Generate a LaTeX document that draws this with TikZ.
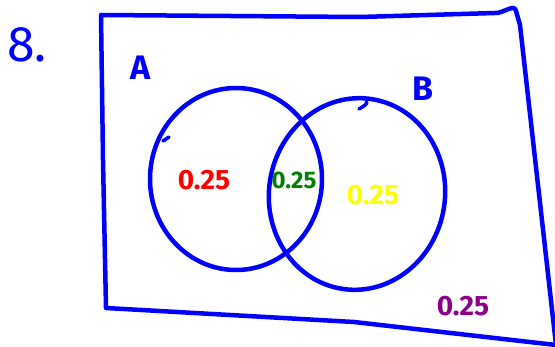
\documentclass[tikz,border=0pt]{standalone}
\usepackage{fontspec}
\setmainfont{Fira Sans}
\usetikzlibrary{shapes.geometric}
\definecolor{penblue}{HTML}{0000FF}
\definecolor{pengreen}{HTML}{008000}
\definecolor{penyellow}{HTML}{FFFF00}
\definecolor{penpurple}{HTML}{8B008B}
\begin{document}
\begin{tikzpicture}[x=1pt,y=-1pt,line width=4.5pt,line cap=round,line join=round,
 pen/.style={draw=penblue},
 setc/.style={pen,ellipse,inner sep=0pt},
 prob/.style={font=\bfseries\fontsize{28}{28}\selectfont,inner sep=0pt},
 lab/.style={text=penblue,font=\bfseries\fontsize{34}{34}\selectfont,inner sep=0pt}]
\useasboundingbox (0,0) rectangle (555,347);
% frame of the sample space
\coordinate (tl) at (101,15);
\coordinate (tr) at (516,11);
\coordinate (br) at (556,345);
\coordinate (bl) at (106,308);
\draw[pen] (tl)--(360,17)--(495,13) to[out=-5,in=100] (tr)
 --(520,25)--(br) (bl)--(354,322)--(556,345) (bl)--(103,160)--(tl);
% the two sets
\node[setc,minimum width=172pt,minimum height=182pt] (circA) at (236,179) {};
\node[setc,minimum width=176pt,minimum height=192pt,rotate=-9] (circB) at (357,194) {};
\draw[pen,line width=3.5pt] (163,141)--(169,137);
\draw[pen,line width=3.5pt] (366,102) to[out=-10,in=30] (359,109);
% labels
\node[lab,font=\mdseries\fontsize{50}{50}\selectfont] (num) at (27,45) {8.};
\node[lab] (nameA) at (141,68) {A};
\node[lab] (nameB) at (423,89) {B};
\node[prob,text=red] (pA) at (204,180) {0.25};
\node[prob,text=pengreen,font=\bfseries\fontsize{24}{24}\selectfont] (pAB) at (294,180) {0.25};
\node[prob,text=penyellow] (pB) at (373,195) {0.25};
\node[prob,text=penpurple] (pN) at (463,306) {0.25};
\end{tikzpicture}
\end{document}
